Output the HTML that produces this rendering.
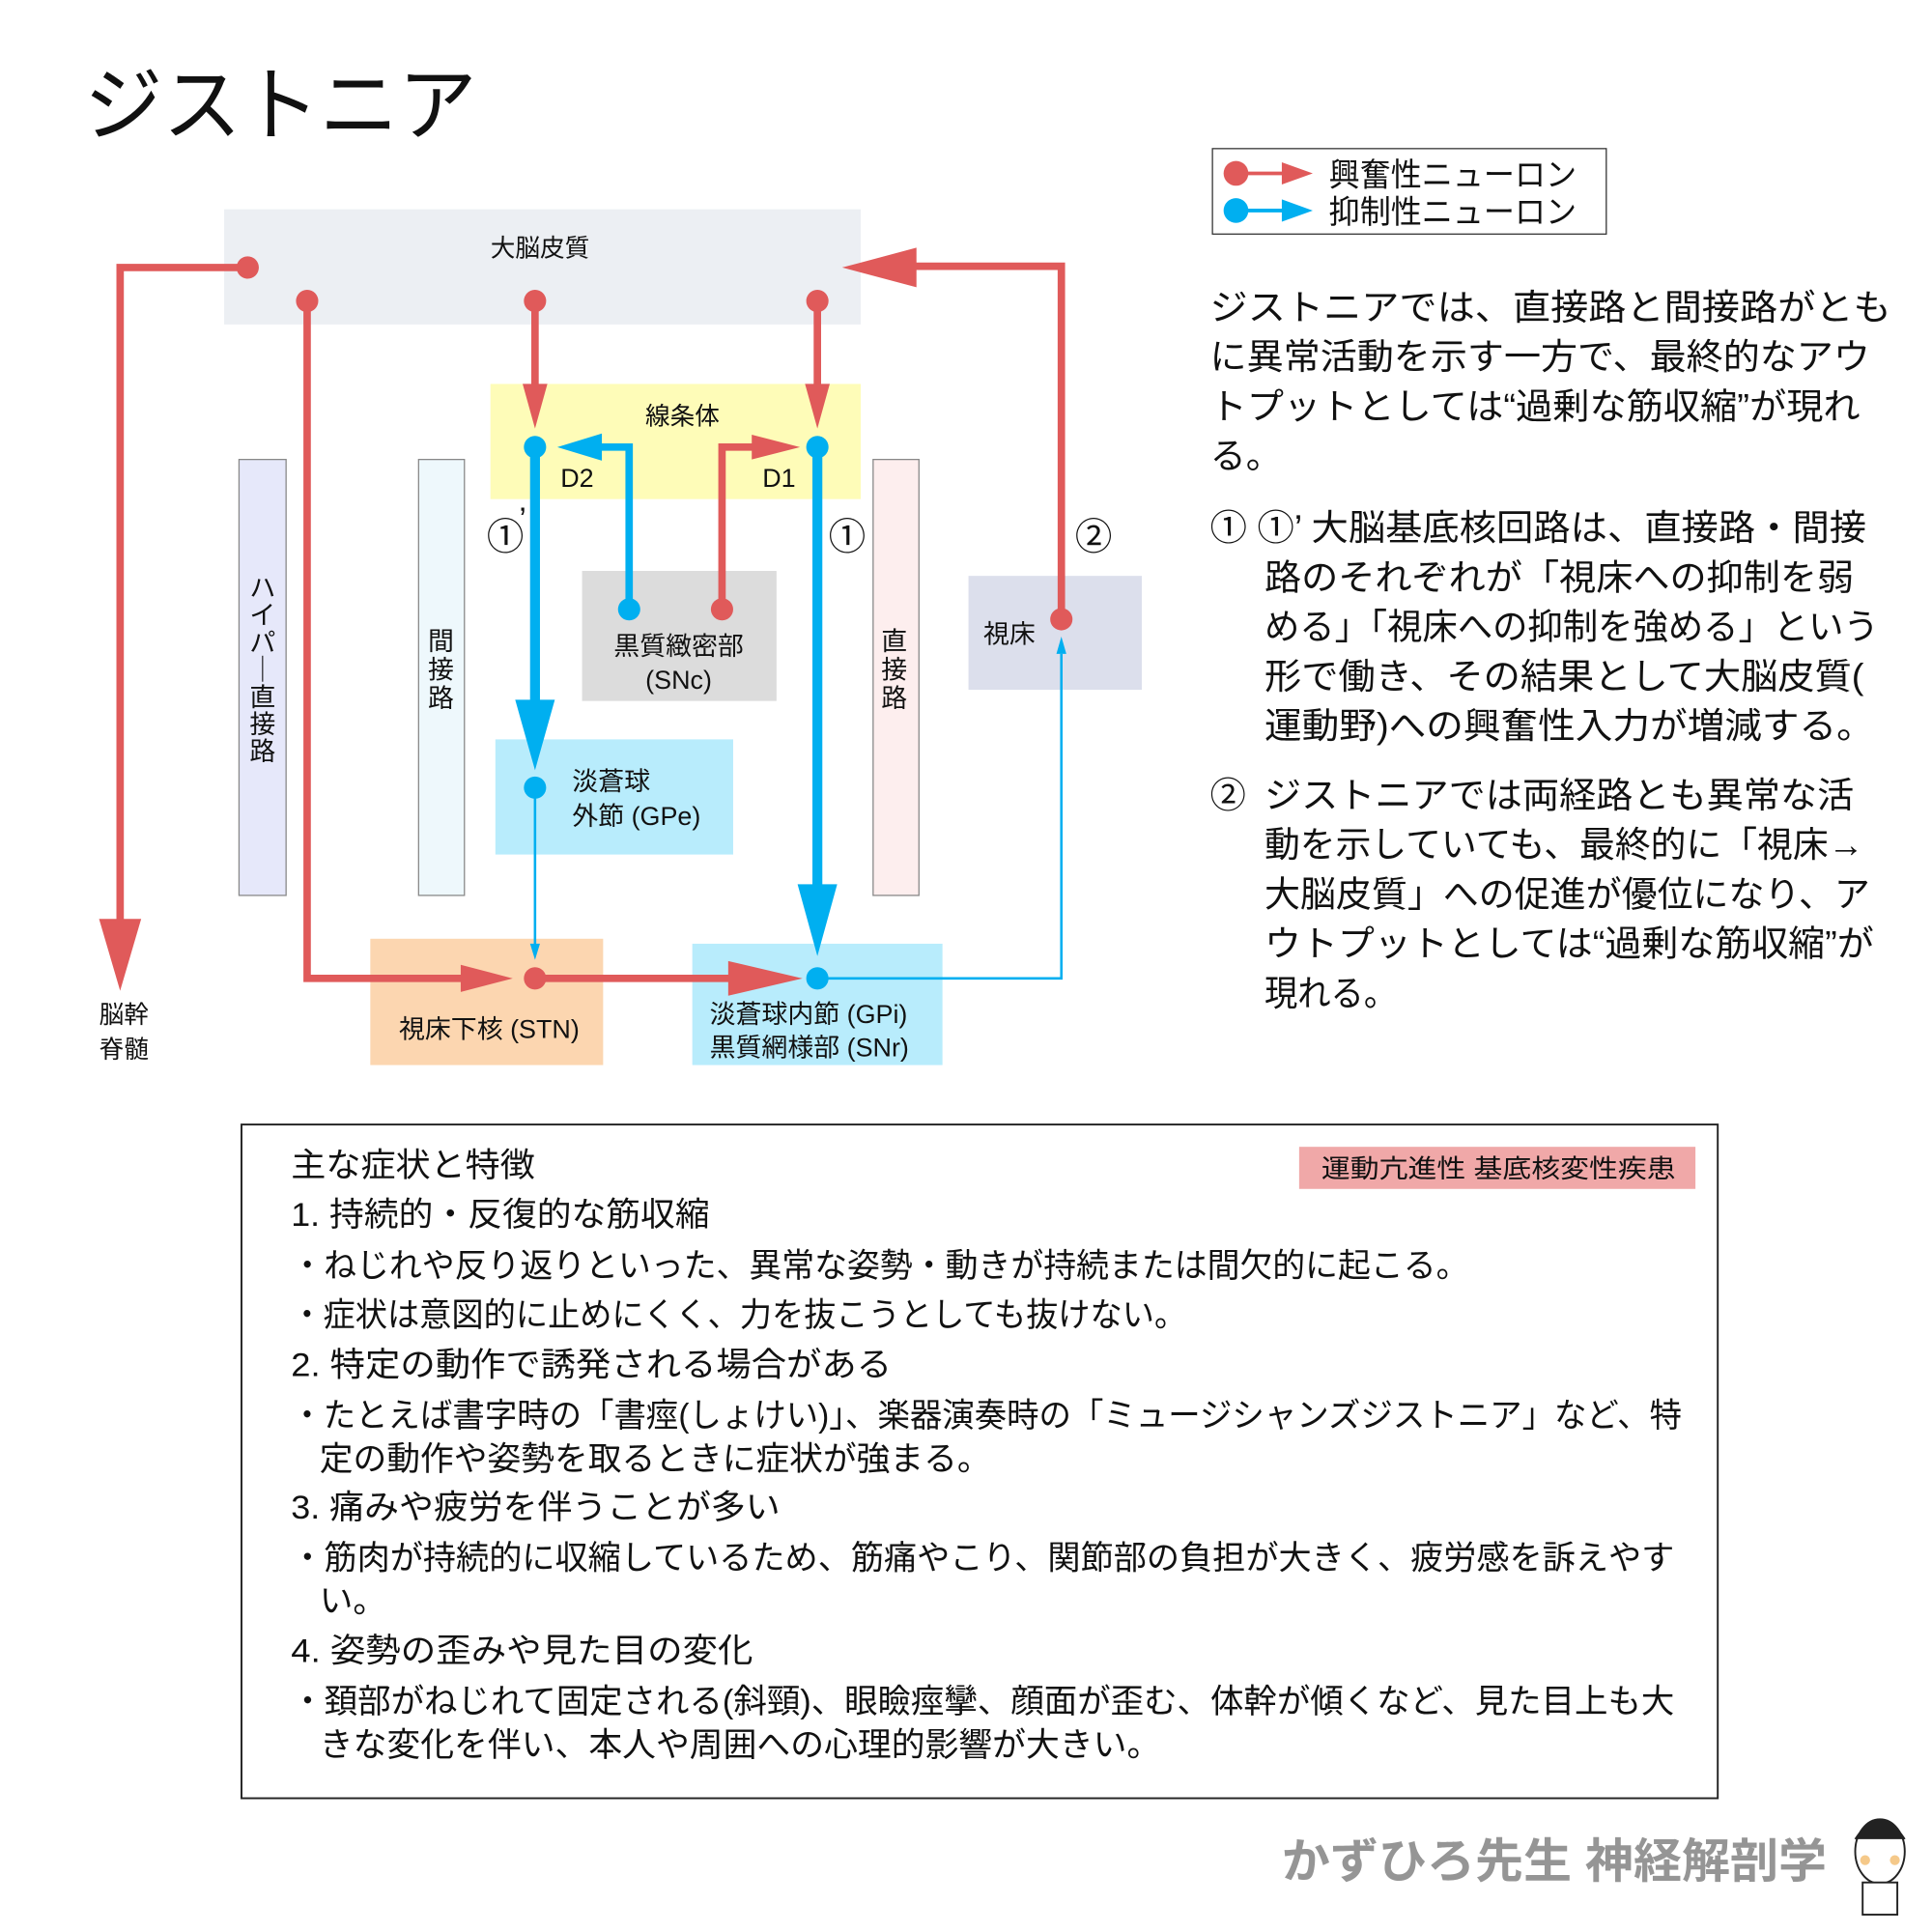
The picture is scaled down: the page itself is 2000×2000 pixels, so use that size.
<!DOCTYPE html>
<html><head><meta charset="utf-8">
<style>
html,body{margin:0;padding:0;background:#fff;}
svg{display:block;}
text{font-family:"Liberation Sans","Noto Sans CJK JP",sans-serif;fill:#111;}
</style></head>
<body>
<svg width="2000" height="2000" viewBox="0 0 1560 1560" xmlns="http://www.w3.org/2000/svg">
<rect width="1560" height="1560" fill="#fff"/>
<text x="68" y="108" font-size="66" textLength="317" lengthAdjust="spacingAndGlyphs">ジストニア</text>

<!-- boxes -->
<rect x="181" y="169" width="514" height="93" fill="#eceff3"/>
<text x="436" y="207" font-size="20" text-anchor="middle">大脳皮質</text>
<rect x="396" y="310" width="299" height="93" fill="#fefcb8"/>
<text x="551" y="343" font-size="20" text-anchor="middle">線条体</text>
<text x="466" y="393" font-size="21" text-anchor="middle">D2</text>
<text x="629" y="393" font-size="21" text-anchor="middle">D1</text>
<rect x="470" y="461" width="157" height="105" fill="#dcdcdc"/>
<text x="548" y="529" font-size="21" text-anchor="middle">黒質緻密部</text>
<text x="548" y="556" font-size="21" text-anchor="middle">(SNc)</text>
<rect x="400" y="597" width="192" height="93" fill="#b8ecfc"/>
<text x="462" y="638" font-size="21">淡蒼球</text>
<text x="462" y="666" font-size="21">外節 (GPe)</text>
<rect x="299" y="758" width="188" height="102" fill="#fcd6b0"/>
<text x="395" y="838" font-size="21" text-anchor="middle">視床下核 (STN)</text>
<rect x="559" y="762" width="202" height="98" fill="#b8ecfc"/>
<text x="573" y="826" font-size="21">淡蒼球内節 (GPi)</text>
<text x="573" y="853" font-size="21">黒質網様部 (SNr)</text>
<rect x="782" y="465" width="140" height="92" fill="#dcdfec"/>
<text x="794" y="519" font-size="21">視床</text>

<rect x="193" y="371" width="38" height="352" fill="#e6e8fa" stroke="#888" stroke-width="1"/>
<rect x="338" y="371" width="37" height="352" fill="#eef8fc" stroke="#888" stroke-width="1"/>
<rect x="705" y="371" width="37" height="352" fill="#fdeeee" stroke="#888" stroke-width="1"/>
<g font-size="21" text-anchor="middle">
<text x="212" y="482">ハ</text><text x="212" y="504">イ</text><text x="212" y="526">パ</text><text x="212" y="548">｜</text><text x="212" y="570">直</text><text x="212" y="592">接</text><text x="212" y="614">路</text>
<text x="356" y="525">間</text><text x="356" y="548">接</text><text x="356" y="571">路</text>
<text x="722" y="525">直</text><text x="722" y="548">接</text><text x="722" y="571">路</text>
</g>
<text x="100" y="826" font-size="20" text-anchor="middle">脳幹</text>
<text x="100" y="854" font-size="20" text-anchor="middle">脊髄</text>

<g font-size="30" text-anchor="middle">
<text x="408" y="444">①</text><text x="422" y="428" font-size="26">’</text>
<text x="684" y="444">①</text>
<text x="883" y="444">②</text>
</g>

<!-- red lines -->
<g stroke="#e05a5a" fill="none" stroke-width="6">
<polyline points="200,216 97,216 97,748"/>
<polyline points="248,243 248,790 378,790"/>
<line x1="432" y1="243" x2="432" y2="312"/>
<line x1="660" y1="243" x2="660" y2="312"/>
<polyline points="583,492 583,361 610,361"/>
<line x1="432" y1="790" x2="592" y2="790"/>
<polyline points="857,500 857,215 738,215"/>
</g>
<g fill="#e05a5a">
<polygon points="80,742 114,742 97,800"/>
<polygon points="372,779 372,801 414,790"/>
<polygon points="422,310 442,310 432,346"/>
<polygon points="650,310 670,310 660,346"/>
<polygon points="607,351 607,371 646,361"/>
<polygon points="588,776 588,804 648,790"/>
<polygon points="740,200 740,232 680,216"/>
<circle cx="200" cy="216" r="9"/><circle cx="248" cy="243" r="9"/>
<circle cx="432" cy="243" r="9"/><circle cx="660" cy="243" r="9"/>
<circle cx="583" cy="492" r="9"/><circle cx="432" cy="790" r="9"/>
<circle cx="857" cy="500" r="9"/>
</g>
<!-- blue lines -->
<g stroke="#00aff0" fill="none">
<polyline points="508,492 508,361 480,361" stroke-width="6"/>
<line x1="432" y1="361" x2="432" y2="570" stroke-width="8"/>
<line x1="660" y1="361" x2="660" y2="718" stroke-width="8"/>
<line x1="432" y1="636" x2="432" y2="770" stroke-width="2"/>
<polyline points="660,790 857,790 857,528" stroke-width="2"/>
</g>
<g fill="#00aff0">
<polygon points="486,350 486,372 450,361"/>
<polygon points="416,565 448,565 432,622"/>
<polygon points="644,714 676,714 660,772"/>
<polygon points="428,762 436,762 432,775"/>
<polygon points="853,528 861,528 857,514"/>
<circle cx="432" cy="361" r="9"/><circle cx="660" cy="361" r="9"/>
<circle cx="508" cy="492" r="9"/><circle cx="432" cy="636" r="9"/>
<circle cx="660" cy="790" r="9"/>
</g>

<!-- legend -->
<rect x="979" y="120" width="318" height="69" fill="#fff" stroke="#333" stroke-width="1"/>
<line x1="998" y1="140" x2="1040" y2="140" stroke="#e05a5a" stroke-width="3"/>
<polygon points="1035,131 1060,140 1035,149" fill="#e05a5a"/>
<circle cx="998" cy="140" r="10" fill="#e05a5a"/>
<line x1="998" y1="170" x2="1040" y2="170" stroke="#00aff0" stroke-width="3"/>
<polygon points="1035,161 1060,170 1035,179" fill="#00aff0"/>
<circle cx="998" cy="170" r="10" fill="#00aff0"/>
<text x="1073" y="150" font-size="26" textLength="200" lengthAdjust="spacingAndGlyphs">興奮性ニューロン</text>
<text x="1073" y="180" font-size="26" textLength="200" lengthAdjust="spacingAndGlyphs">抑制性ニューロン</text>

<!-- right text -->
<g font-size="29">
<text x="977" y="258" textLength="550" lengthAdjust="spacingAndGlyphs">ジストニアでは、直接路と間接路がとも</text>
<text x="977" y="298" textLength="533" lengthAdjust="spacingAndGlyphs">に異常活動を示す一方で、最終的なアウ</text>
<text x="977" y="338" textLength="525" lengthAdjust="spacingAndGlyphs">トプットとしては“過剰な筋収縮”が現れ</text>
<text x="977" y="378">る。</text>
<text x="977" y="436" textLength="530" lengthAdjust="spacingAndGlyphs">① ①’ 大脳基底核回路は、直接路・間接</text>
<text x="1021" y="476" textLength="476" lengthAdjust="spacingAndGlyphs">路のそれぞれが「視床への抑制を弱</text>
<text x="1021" y="516" textLength="496" lengthAdjust="spacingAndGlyphs">める」「視床への抑制を強める」という</text>
<text x="1021" y="556" textLength="484" lengthAdjust="spacingAndGlyphs">形で働き、その結果として大脳皮質(</text>
<text x="1021" y="596" textLength="492" lengthAdjust="spacingAndGlyphs">運動野)への興奮性入力が増減する。</text>
<text x="977" y="652">②</text>
<text x="1021" y="652" textLength="476" lengthAdjust="spacingAndGlyphs">ジストニアでは両経路とも異常な活</text>
<text x="1021" y="692" textLength="484" lengthAdjust="spacingAndGlyphs">動を示していても、最終的に「視床→</text>
<text x="1021" y="732" textLength="489" lengthAdjust="spacingAndGlyphs">大脳皮質」への促進が優位になり、ア</text>
<text x="1021" y="772" textLength="492" lengthAdjust="spacingAndGlyphs">ウトプットとしては“過剰な筋収縮”が</text>
<text x="1021" y="812" textLength="107" lengthAdjust="spacingAndGlyphs">現れる。</text>
</g>

<!-- bottom box -->
<rect x="195" y="908" width="1192" height="544" fill="#fff" stroke="#222" stroke-width="1.5"/>
<rect x="1049" y="926" width="320" height="34" fill="#f0a8a8"/>
<text x="1067" y="951" font-size="21" textLength="286" lengthAdjust="spacingAndGlyphs">運動亢進性 基底核変性疾患</text>
<g font-size="27">
<text x="235" y="950" textLength="197" lengthAdjust="spacingAndGlyphs">主な症状と特徴</text>
<text x="235" y="990" textLength="338" lengthAdjust="spacingAndGlyphs">1. 持続的・反復的な筋収縮</text>
<text x="235" y="1031" textLength="951" lengthAdjust="spacingAndGlyphs">・ねじれや反り返りといった、異常な姿勢・動きが持続または間欠的に起こる。</text>
<text x="235" y="1071" textLength="723" lengthAdjust="spacingAndGlyphs">・症状は意図的に止めにくく、力を抜こうとしても抜けない。</text>
<text x="235" y="1111" textLength="485" lengthAdjust="spacingAndGlyphs">2. 特定の動作で誘発される場合がある</text>
<text x="235" y="1152" textLength="1123" lengthAdjust="spacingAndGlyphs">・たとえば書字時の「書痙(しょけい)」、楽器演奏時の「ミュージシャンズジストニア」など、特</text>
<text x="258" y="1187" textLength="542" lengthAdjust="spacingAndGlyphs">定の動作や姿勢を取るときに症状が強まる。</text>
<text x="235" y="1226" textLength="395" lengthAdjust="spacingAndGlyphs">3. 痛みや疲労を伴うことが多い</text>
<text x="235" y="1267" textLength="1117" lengthAdjust="spacingAndGlyphs">・筋肉が持続的に収縮しているため、筋痛やこり、関節部の負担が大きく、疲労感を訴えやす</text>
<text x="258" y="1302">い。</text>
<text x="235" y="1342" textLength="373" lengthAdjust="spacingAndGlyphs">4. 姿勢の歪みや見た目の変化</text>
<text x="235" y="1383" textLength="1117" lengthAdjust="spacingAndGlyphs">・頚部がねじれて固定される(斜頸)、眼瞼痙攣、顔面が歪む、体幹が傾くなど、見た目上も大</text>
<text x="258" y="1418" textLength="679" lengthAdjust="spacingAndGlyphs">きな変化を伴い、本人や周囲への心理的影響が大きい。</text>
</g>

<!-- footer -->
<text x="1035" y="1516" font-size="38" font-weight="bold" textLength="440" lengthAdjust="spacingAndGlyphs" style="fill:#959595">かずひろ先生 神経解剖学</text>
<g stroke="#222" stroke-width="1.5" fill="#fff">
<ellipse cx="1518" cy="1495" rx="20" ry="26"/>
<path d="M1498,1485 Q1518,1455 1538,1485" fill="#222"/>
<rect x="1504" y="1520" width="28" height="26"/>
</g>
<circle cx="1506" cy="1502" r="4" fill="#f5c98a"/><circle cx="1530" cy="1502" r="4" fill="#f5c98a"/>
</svg>
</body></html>
